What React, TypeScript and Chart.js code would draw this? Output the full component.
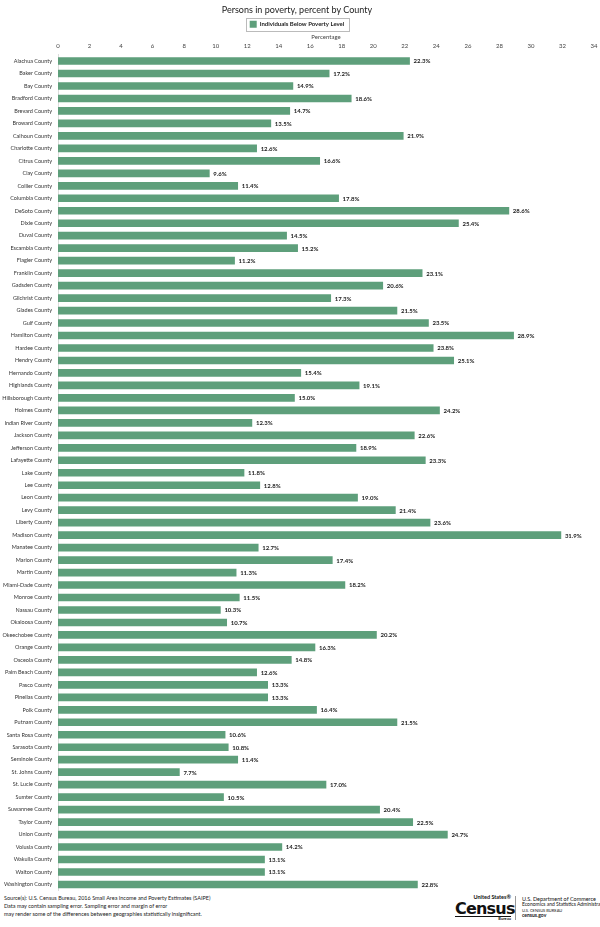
import React, { useEffect, useRef } from "react";
import { Chart, registerables } from "chart.js";

Chart.register(...registerables);

const counties: string[] = [
  "Alachua County", "Baker County", "Bay County", "Bradford County", "Brevard County",
  "Broward County", "Calhoun County", "Charlotte County", "Citrus County", "Clay County",
  "Collier County", "Columbia County", "DeSoto County", "Dixie County", "Duval County",
  "Escambia County", "Flagler County", "Franklin County", "Gadsden County", "Gilchrist County",
  "Glades County", "Gulf County", "Hamilton County", "Hardee County", "Hendry County",
  "Hernando County", "Highlands County", "Hillsborough County", "Holmes County", "Indian River County",
  "Jackson County", "Jefferson County", "Lafayette County", "Lake County", "Lee County",
  "Leon County", "Levy County", "Liberty County", "Madison County", "Manatee County",
  "Marion County", "Martin County", "Miami-Dade County", "Monroe County", "Nassau County",
  "Okaloosa County", "Okeechobee County", "Orange County", "Osceola County", "Palm Beach County",
  "Pasco County", "Pinellas County", "Polk County", "Putnam County", "Santa Rosa County",
  "Sarasota County", "Seminole County", "St. Johns County", "St. Lucie County", "Sumter County",
  "Suwannee County", "Taylor County", "Union County", "Volusia County", "Wakulla County",
  "Walton County", "Washington County",
];

const povertyPct: number[] = [
  22.3, 17.2, 14.9, 18.6, 14.7,
  13.5, 21.9, 12.6, 16.6, 9.6,
  11.4, 17.8, 28.6, 25.4, 14.5,
  15.2, 11.2, 23.1, 20.6, 17.3,
  21.5, 23.5, 28.9, 23.8, 25.1,
  15.4, 19.1, 15.0, 24.2, 12.3,
  22.6, 18.9, 23.3, 11.8, 12.8,
  19.0, 21.4, 23.6, 31.9, 12.7,
  17.4, 11.3, 18.2, 11.5, 10.3,
  10.7, 20.2, 16.3, 14.8, 12.6,
  13.3, 13.3, 16.4, 21.5, 10.6,
  10.8, 11.4, 7.7, 17.0, 10.5,
  20.4, 22.5, 24.7, 14.2, 13.1,
  13.1, 22.8,
];

const seriesName = "Individuals Below Poverty Level";
const chartTitle = "Persons in poverty, percent by County";
const axisTitle = "Percentage";
const xMin = 0;
const xMax = 34;
const xStep = 2;

const sourceLines: string[] = [
  "Source(s): U.S. Census Bureau, 2016 Small Area Income and Poverty Estimates (SAIPE)",
  "Data may contain sampling error. Sampling error and margin of error",
  "may render some of the differences between geographies statistically insignificant.",
];

const FONT = "Lato, 'Open Sans', sans-serif";
const BAR = "#5e9f7b";

const valueLabels = {
  id: "valueLabels",
  afterDatasetsDraw(chart: any) {
    const ctx = chart.ctx;
    const meta = chart.getDatasetMeta(0);
    ctx.save();
    ctx.font = `bold 6px ${FONT}`;
    ctx.fillStyle = "#222";
    ctx.textAlign = "left";
    ctx.textBaseline = "middle";
    meta.data.forEach((el: any, i: number) => {
      const v = chart.data.datasets[0].data[i];
      ctx.fillText(v.toFixed(1) + "%", el.x + 4, el.y + 0.5);
    });
    ctx.restore();
  },
};

const legendTweaks = {
  id: "legendTweaks",
  beforeLayout(chart: any) {
    const lg = chart.legend;
    if (lg && !lg.__patched) {
      const orig = lg.fit.bind(lg);
      lg.fit = function () {
        orig();
        this.height = Math.max(0, this.height - 6);
      };
      lg.__patched = true;
    }
  },
  afterDraw(chart: any) {
    const boxes = chart.legend && chart.legend.legendHitBoxes;
    if (!boxes || !boxes.length) return;
    const b = boxes[0];
    const ctx = chart.ctx;
    ctx.save();
    ctx.strokeStyle = "#bbbbbb";
    ctx.lineWidth = 1;
    ctx.strokeRect(Math.round(b.left - 4) + 0.5, Math.round(b.top - 3) + 0.5, Math.round(b.width + 8), Math.round(b.height + 6));
    ctx.restore();
  },
};

function PovertyChart() {
  const ref = useRef<HTMLCanvasElement | null>(null);
  useEffect(() => {
    if (!ref.current) return;
    const chart = new Chart(ref.current, {
      type: "bar",
      data: {
        labels: counties,
        datasets: [
          {
            label: seriesName,
            data: povertyPct,
            backgroundColor: BAR,
            borderWidth: 0,
            barThickness: 7,
          },
        ],
      },
      options: {
        indexAxis: "y",
        responsive: false,
        animation: false,
        maintainAspectRatio: false,
        layout: { padding: { left: 0, right: 6, top: 5, bottom: 0 } },
        plugins: {
          title: {
            display: true,
            text: chartTitle,
            color: "#222",
            font: { family: FONT, size: 9, weight: "normal" },
            padding: { top: 0, bottom: 4 },
          },
          legend: {
            display: true,
            position: "top",
            labels: {
              boxWidth: 7,
              boxHeight: 7,
              color: "#222",
              font: { family: FONT, size: 6, weight: "bold" },
              padding: 1,
            },
          },
          tooltip: { enabled: false },
        },
        scales: {
          x: {
            position: "top",
            min: xMin,
            max: xMax,
            ticks: {
              stepSize: xStep,
              color: "#444",
              font: { family: FONT, size: 6 },
              padding: 1.5,
              maxRotation: 0,
            },
            grid: { display: false, drawTicks: true, tickLength: 4 },
            border: { display: false },
            title: {
              display: true,
              text: axisTitle,
              color: "#444",
              font: { family: FONT, size: 6 },
              padding: { top: 2, bottom: 0 },
            },
            afterFit(scale: any) {
              scale.height = 23;
            },
          },
          y: {
            ticks: {
              color: "#333",
              font: { family: FONT, size: 5.5 },
              padding: 0,
              autoSkip: false,
            },
            grid: { display: false, drawTicks: true, tickLength: 6 },
            border: { display: true, color: "#dddddd" },
            afterFit(scale: any) {
              scale.width = 58;
            },
          },
        },
      },
      plugins: [valueLabels, legendTweaks],
    });
    return () => chart.destroy();
  }, []);
  return <canvas ref={ref} width={600} height={894} style={{ display: "block" }} />;
}

export default function App() {
  return (
    <div style={{ position: "absolute", left: 0, top: 0, width: 600, height: 927, background: "#fff", overflow: "hidden", fontFamily: FONT }}>
      <PovertyChart />
      <div style={{ position: "absolute", left: 4, top: 894, fontSize: 5.5, lineHeight: "8px", color: "#222", whiteSpace: "nowrap" }}>
        {sourceLines.map((l, i) => (
          <div key={i}>{l}</div>
        ))}
      </div>
      <div style={{ position: "absolute", left: 455, top: 895, display: "flex", alignItems: "center", color: "#111", whiteSpace: "nowrap" }}>
        <div style={{ textAlign: "right", lineHeight: 1, width: 56 }}>
          <div style={{ fontSize: 5.5, fontWeight: "bold" }}>United States®</div>
          <div style={{ fontSize: 16, fontWeight: 900, letterSpacing: -0.8, fontFamily: "'DejaVu Sans', sans-serif", lineHeight: "15px" }}>Census</div>
          <div style={{ fontSize: 4, fontWeight: "bold", borderTop: "1px solid #111" }}>Bureau</div>
        </div>
        <div style={{ width: 1, height: 24, background: "#999", margin: "0 6px 0 4px" }} />
        <div style={{ fontSize: 5, lineHeight: "5.5px" }}>
          <div style={{ fontSize: 5.5 }}>U.S. Department of Commerce</div>
          <div>Economics and Statistics Administration</div>
          <div style={{ fontSize: 4 }}>U.S. CENSUS BUREAU</div>
          <div style={{ fontWeight: "bold" }}>census.gov</div>
        </div>
      </div>
    </div>
  );
}
